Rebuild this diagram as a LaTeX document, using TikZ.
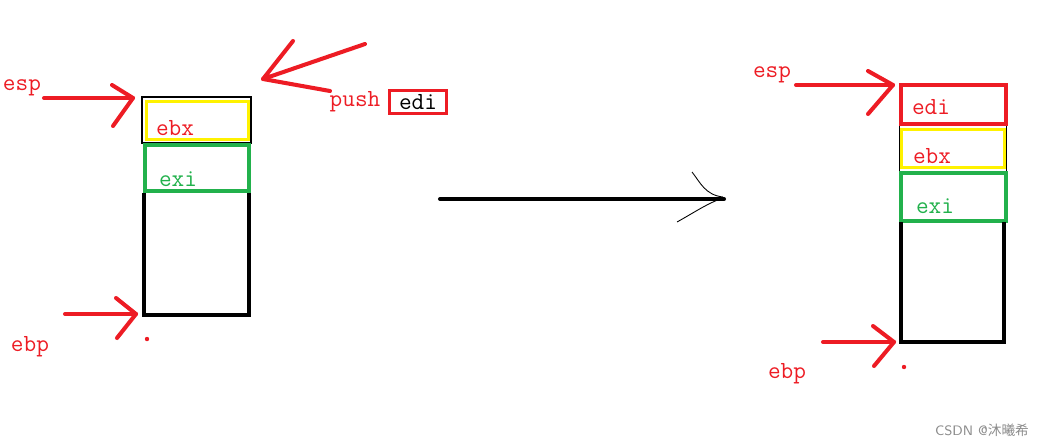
\documentclass[tikz,border=0pt]{standalone}
\usepackage{fontspec}
\newfontfamily\cjk{Noto Sans CJK SC}
\definecolor{pred}{HTML}{ED1C24}
\definecolor{pyel}{HTML}{FFF200}
\definecolor{pgrn}{HTML}{22B14C}
\begin{document}
\begin{tikzpicture}[x=0.02cm,y=-0.02cm,
  lbl/.style={font=\ttfamily\fontsize{14}{14}\selectfont, text=pred, inner sep=0pt},
  glbl/.style={lbl, text=pgrn},
  redarrow/.style={draw=pred, line width=2.3pt, line cap=round, line join=round},
  thickline/.style={line width=2.3pt},
  medline/.style={line width=1.7pt}]
\useasboundingbox (0,0) rectangle (1050,447);
% ---------- left stack ----------
\draw[line width=0.6pt] (142,97) rectangle (251,143);
\draw[pyel, medline] (146.5,101.5) rectangle (248.5,139.5);
\draw[pgrn, thickline] (145,145) rectangle (249,191);
\draw[thickline] (144,193) -- (144,315) -- (249,315) -- (249,193);
\node[lbl] (lebx) at (175,128) {ebx};
\node[glbl] (lexi) at (178,179) {exi};
\node[lbl] (lesp) at (22,88) {esp};
\node[lbl] (lebp) at (30,347) {ebp};
\node[lbl] (push) at (355,102) {push};
\node[draw=pred, line width=1.7pt, inner sep=2pt, minimum width=57pt*0.02/0.0352778, font=\ttfamily\fontsize{14}{14}\selectfont] (pedi) at (418,102) {edi};
% esp arrow
\coordinate (ls0) at (44,98);
\coordinate (ls1) at (133,98);
\draw[redarrow] (ls0) -- (ls1);
\draw[redarrow] (112,85) -- (ls1) -- (113,126);
% ebp arrow
\coordinate (lb0) at (65,314);
\coordinate (lb1) at (136,314);
\draw[redarrow] (lb0) -- (lb1);
\draw[redarrow] (116,298) -- (lb1) -- (117,338);
\fill[pred] (147,339) circle (2.2);
% push arrow
\coordinate (pt) at (263,79);
\draw[redarrow] (293,41) -- (pt) -- (365,44);
\draw[redarrow] (pt) -- (330,91);
% ---------- middle arrow ----------
\coordinate (m0) at (440,199);
\coordinate (m1) at (724,199);
\draw[thickline, line cap=round] (m0) -- (m1);
\draw[line width=0.5pt] (692,172) .. controls (700,182) and (705,195) .. (723,197);
\draw[line width=0.5pt] (677,222) .. controls (695,212) and (708,203) .. (723,198);
% ---------- right stack ----------
\draw[line width=0.6pt] (899.5,124) -- (899.5,172);
\draw[line width=0.6pt] (1006.5,124) -- (1006.5,172);
\draw[pred, thickline] (901,85) rectangle (1006,124);
\draw[pyel, medline] (901.5,129.5) rectangle (1004.5,167.5);
\draw[pgrn, thickline] (901,173) rectangle (1006,221);
\draw[thickline] (901,222) -- (901,342) -- (1004,342) -- (1004,222);
\node[lbl] (redi) at (931,107) {edi};
\node[lbl] (rebx) at (932,156) {ebx};
\node[glbl] (rexi) at (935,206) {exi};
\node[lbl] (resp) at (772,75) {esp};
\node[lbl] (rebp) at (787,374) {ebp};
\coordinate (rs0) at (796,85);
\coordinate (rs1) at (893,85);
\draw[redarrow] (rs0) -- (rs1);
\draw[redarrow] (868,71) -- (rs1) -- (868,114);
\coordinate (rb0) at (823,342);
\coordinate (rb1) at (894,342);
\draw[redarrow] (rb0) -- (rb1);
\draw[redarrow] (873,326) -- (rb1) -- (874,366);
\fill[pred] (904,367) circle (2.2);
% watermark
\node[font=\sffamily\fontsize{7.8}{7.8}\selectfont, text=black!45, inner sep=0pt] (wm) at (982,430) {CSDN @{\cjk 沐曦希}};
\end{tikzpicture}
\end{document}
